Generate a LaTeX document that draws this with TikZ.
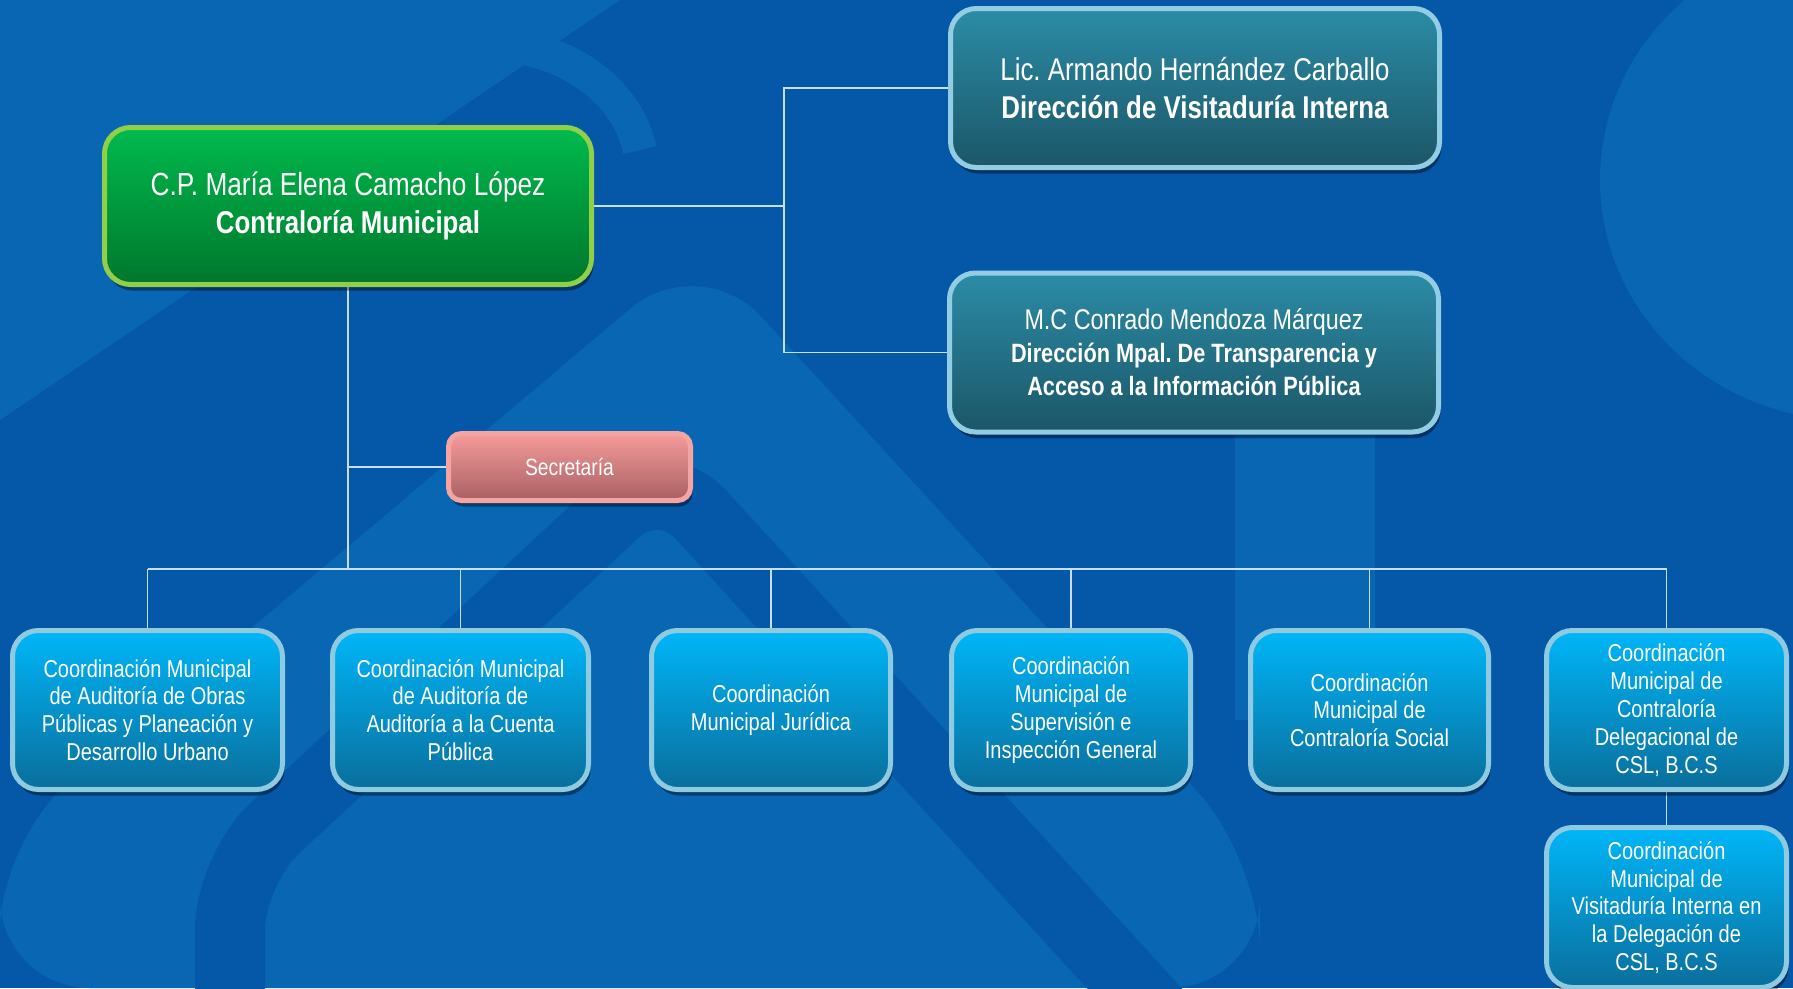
\documentclass[tikz,border=0pt]{standalone}
\usepackage{fontspec}
\setmainfont{Liberation Sans}[FakeStretch=0.82]
\usetikzlibrary{shadows}
\definecolor{bgbase}{HTML}{0558A8}
\definecolor{bglight}{HTML}{0866B3}
\definecolor{conncol}{HTML}{C9DEF0}
\definecolor{bluetop}{HTML}{00B6F8}
\definecolor{bluebot}{HTML}{0A6E9C}
\definecolor{bluebord}{HTML}{8FCBE0}
\definecolor{tealtop}{HTML}{2B8CA6}
\definecolor{tealbot}{HTML}{1C5668}
\definecolor{tealbord}{HTML}{93CDE3}
\definecolor{greentop}{HTML}{00BA4E}
\definecolor{greenbot}{HTML}{00772C}
\definecolor{greenbord}{HTML}{8FCF4A}
\definecolor{pinktop}{HTML}{F69B9B}
\definecolor{pinkbot}{HTML}{A86063}
\definecolor{pinkbord}{HTML}{F5A3A3}
\pgfdeclarelayer{back}
\pgfdeclarelayer{mid}
\pgfsetlayers{back,mid,main}
\begin{document}
\frenchspacing
\begin{tikzpicture}[x=1pt,y=-1pt,
  box/.style={line width=5pt, align=center, text=white, inner sep=0pt,
    drop shadow={shadow xshift=2pt, shadow yshift=-6pt, opacity=0.4, fill=black}},
  coordbox/.style={box, rounded corners=26pt, draw=bluebord, top color=bluetop, bottom color=bluebot,
    minimum height=159pt, font=\fontsize{24.4}{27.8}\selectfont},
  tealbox/.style={box, rounded corners=26pt, draw=tealbord, top color=tealtop, bottom color=tealbot,
    minimum width=489pt, minimum height=159pt},
  headbox/.style={box, rounded corners=26pt, draw=greenbord, top color=greentop, bottom color=greenbot,
    minimum width=487pt, minimum height=157pt, font=\fontsize{32}{38.5}\selectfont},
  secbox/.style={box, rounded corners=13pt, draw=pinkbord, top color=pinktop, bottom color=pinkbot,
    minimum width=242pt, minimum height=67pt, font=\fontsize{23.5}{26}\selectfont},
  conn/.style={draw=conncol, line width=1.8pt}
]
\useasboundingbox (0,0) rectangle (1793,988);
\begin{pgfonlayer}{back}
  \fill[bgbase] (0,0) rectangle (1793,988);
  \fill[bglight] (0,0) -- (620,0) -- (0,420) -- cycle;
  \fill[bglight, rounded corners=90pt] (0,988) -- (0,840) -- (700,250) -- (1260,860) -- (1260,988) -- cycle;
  \draw[bgbase, line width=70pt, rounded corners=60pt] (230,1100) -- (230,870) -- (660,470) -- (1200,1060);
  \fill[bglight] (1235,400) rectangle (1375,720);
  \fill[bglight] (1850,180) ellipse [x radius=250pt, y radius=240pt];
  \draw[bglight, line width=34pt] (420,60) .. controls (500,20) and (620,60) .. (640,150);
\end{pgfonlayer}

% nodes
\node[headbox] (g) at (348,206) {C.P. María Elena Camacho López\\{\fontsize{31.5}{38.5}\selectfont\bfseries Contraloría Municipal}};
\node[tealbox, font=\fontsize{31.5}{37.5}\selectfont] (v) at (1195,88) {Lic. Armando Hernández Carballo\\\textbf{Dirección de Visitaduría Interna}};
\node[tealbox, font=\fontsize{26.5}{33}\selectfont] (t) at (1194,352.5) {{\fontsize{28.5}{33}\selectfont M.C Conrado Mendoza Márquez}\\\textbf{Dirección Mpal. De Transparencia y}\\\textbf{Acceso a la Información Pública}};
\node[secbox] (s) at (569.5,467) {Secretaría};
\node[coordbox, minimum width=270pt] (c1) at (147.5,710) {Coordinación Municipal\\de Auditoría de Obras\\Públicas y Planeación y\\Desarrollo Urbano};
\node[coordbox, minimum width=256pt] (c2) at (460.5,710) {Coordinación Municipal\\de Auditoría de\\Auditoría a la Cuenta\\Pública};
\node[coordbox, minimum width=239pt] (c3) at (771,710) {Coordinación\\Municipal Jurídica};
\node[coordbox, minimum width=239pt] (c4) at (1071,710) {Coordinación\\Municipal de\\Supervisión e\\Inspección General};
\node[coordbox, minimum width=238pt] (c5) at (1369.5,710) {Coordinación\\Municipal de\\Contraloría Social};
\node[coordbox, minimum width=240pt] (c6) at (1666.5,710) {Coordinación\\Municipal de\\Contraloría\\Delegacional de\\CSL, B.C.S};
\node[coordbox, minimum width=240pt, minimum height=160pt] (c7) at (1666.5,907.5) {Coordinación\\Municipal de\\Visitaduría Interna en\\la Delegación de\\CSL, B.C.S};

\coordinate (rj) at (784,206);
\coordinate (bus) at (348,569);

\begin{pgfonlayer}{mid}
  \draw[conn] (g.east) -- (rj);
  \draw[conn] (v.west) -- (rj |- v.west) -- (rj |- t.west) -- (t.west);
  \draw[conn] (g.south) -- (bus);
  \draw[conn] (g.south |- s.west) -- (s.west);
  \draw[conn] (c1.north |- bus) -- (c6.north |- bus);
  \foreach \n in {c1,c2,c3,c4,c5,c6} {\draw[conn] (\n.north |- bus) -- (\n.north);}
  \draw[conn] (c6.south) -- (c7.north);
\end{pgfonlayer}
\end{tikzpicture}
\end{document}
